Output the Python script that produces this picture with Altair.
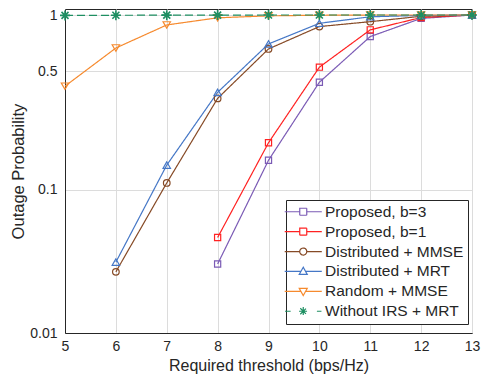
import altair as alt
import pandas as pd

# ---------------- data ----------------
series_names = ["Proposed, b=3", "Proposed, b=1", "Distributed + MMSE",
                "Distributed + MRT", "Random + MMSE", "Without IRS + MRT"]
x_all = [5, 6, 7, 8, 9, 10, 11, 12, 13]
x_prop = [8, 9, 10, 11, 12, 13]
x_dist = [6, 7, 8, 9, 10, 11, 12, 13]

y_prop_b3 = [0.032, 0.152, 0.434, 0.77, 0.96, 1.0]
y_prop_b1 = [0.0486, 0.194, 0.526, 0.836, 0.97, 1.0]
y_dist_mmse = [0.0282, 0.110, 0.352, 0.661, 0.870, 0.923, 0.985, 1.0]
y_dist_mrt = [0.033, 0.142, 0.381, 0.703, 0.905, 0.979, 0.995, 1.0]
y_random_mmse = [0.4125, 0.669, 0.887, 0.967, 0.99, 0.997, 1.0, 1.0, 1.0]
y_without_irs = [0.995, 0.997, 0.998, 0.999, 1.0, 1.0, 1.0, 1.0, 1.0]

x_ticks = [5, 6, 7, 8, 9, 10, 11, 12, 13]
y_ticks = [0.01, 0.1, 0.5, 1]

colors = ["#7B5BB5", "#FF2222", "#864A26", "#4577C6", "#F68A2E", "#1E8F62"]
dashes = [[1, 0], [1, 0], [1, 0], [1, 0], [1, 0], [8, 4]]

plot_shapes = ["square", "square", "circle", "triangle-up", "triangle-down",
               "M0,-1V1M-1,0H1M-0.7,-0.7L0.7,0.7M-0.7,0.7L0.7,-0.7"]
plot_sizes = [38, 38, 44, 55, 55, 100]

legend_paths = [
    "M-5.3,0H-1M1,0H5.3M-1,-1H1V1H-1Z",
    "M-5.3,0H-1M1,0H5.3M-1,-1H1V1H-1Z",
    "M-5.3,0H-1M1,0H5.3M1,0A1,1,0,1,1,-1,0A1,1,0,1,1,1,0Z",
    "M-5.3,0H-0.7M0.7,0H5.3M0,-1.2L1.15,0.85L-1.15,0.85Z",
    "M-5.3,0H-0.7M0.7,0H5.3M0,1.2L1.15,-0.85L-1.15,-0.85Z",
    "M-5.2,0H-3.6M3.9,0H5.2M0,-1.2V1.2M-1.2,0H1.2M-0.85,-0.85L0.85,0.85M-0.85,0.85L0.85,-0.85",
]

rows = []
for name, xs, ys in [
    (series_names[0], x_prop, y_prop_b3),
    (series_names[1], x_prop, y_prop_b1),
    (series_names[2], x_dist, y_dist_mmse),
    (series_names[3], x_dist, y_dist_mrt),
    (series_names[4], x_all, y_random_mmse),
    (series_names[5], x_all, y_without_irs),
]:
    for xv, yv in zip(xs, ys):
        rows.append({"series": name, "x": xv, "y": yv})
df = pd.DataFrame(rows)

# ---------------- scales ----------------
x_scale = alt.Scale(domain=[5, 13], nice=False, zero=False)
y_scale = alt.Scale(type="pow", exponent=0.085, domain=[0.01, 1.0744],
                    nice=False, zero=False)
color_scale = alt.Scale(domain=series_names, range=colors)

x_enc = alt.X("x:Q", scale=x_scale,
              axis=alt.Axis(values=x_ticks, format="d", labelFlush=False,
                            title="Required threshold (bps/Hz)"))
y_enc = alt.Y("y:Q", scale=y_scale,
              axis=alt.Axis(values=y_ticks, format="~g", labelFlush=False,
                            title="Outage Probability"))

base = alt.Chart(df)

legend_def = alt.Legend(
    title=None, orient="none", legendX=221, legendY=191,
    strokeColor="#262626", fillColor="white", padding=4, cornerRadius=0,
    labelFont="Liberation Sans", labelFontSize=15.5, labelColor="#262626",
    symbolSize=49, symbolStrokeWidth=1.2, symbolOpacity=1,
    symbolOffset=5.5, labelOffset=14, rowPadding=2.9, labelLimit=400,
)

# invisible layer that only supplies the legend (first so its legend wins)
legend_layer = base.mark_point(filled=False, opacity=0).encode(
    x=x_enc, y=y_enc,
    color=alt.Color("series:N", scale=color_scale, legend=legend_def),
    shape=alt.Shape("series:N",
                    scale=alt.Scale(domain=series_names, range=legend_paths),
                    legend=legend_def),
)

lines = base.mark_line(strokeWidth=1.2).encode(
    x=x_enc, y=y_enc,
    color=alt.Color("series:N", scale=color_scale, legend=None),
    strokeDash=alt.StrokeDash("series:N",
                              scale=alt.Scale(domain=series_names, range=dashes),
                              legend=None),
    order=alt.Order("x:Q"),
)

point_layers = []
for name, shp, sz in zip(series_names, plot_shapes, plot_sizes):
    point_layers.append(
        base.transform_filter(alt.datum.series == name)
        .mark_point(filled=False, shape=shp, size=sz,
                    strokeWidth=1.6 if name == series_names[5] else 1.2,
                    opacity=1)
        .encode(x=x_enc, y=y_enc,
                color=alt.Color("series:N", scale=color_scale, legend=None))
    )

chart = alt.layer(legend_layer, lines, *point_layers).properties(
    width=407, height=324,
    autosize=alt.AutoSizeParams(type="none"),
    padding={"left": 57, "top": 1, "right": 9, "bottom": 41},
).configure_view(
    stroke="#262626", strokeWidth=1
).configure_axis(
    labelFont="Liberation Sans", titleFont="Liberation Sans",
    labelFontSize=14, titleFontWeight="normal",
    labelColor="#262626", titleColor="#262626",
    domainColor="#262626", domainWidth=1,
    gridColor="#DCDCDC", gridWidth=1,
    ticks=False,
).configure_axisX(
    labelPadding=6, titlePadding=4, titleFontSize=16
).configure_axisY(
    labelPadding=8, titlePadding=3, titleFontSize=16.5
)

chart.save("out.html", embed_options={"renderer": "svg", "actions": False})
